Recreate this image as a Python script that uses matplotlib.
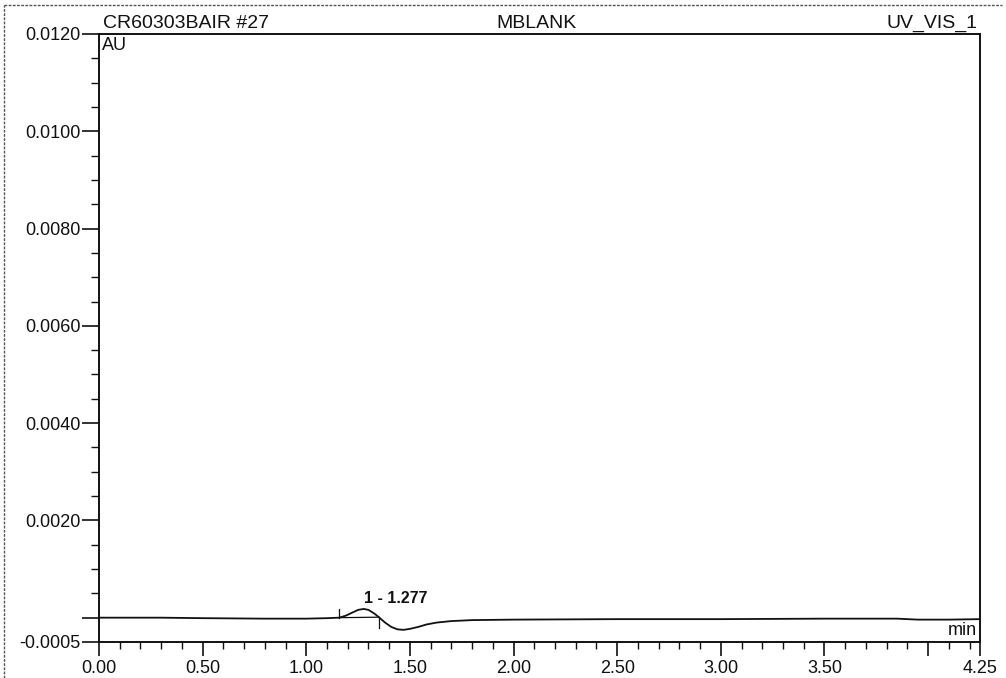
"""Chromatogram MBLANK / UV_VIS_1 -> out.png"""

import matplotlib
matplotlib.use("Agg")
import matplotlib.pyplot as plt
from matplotlib.lines import Line2D
import numpy as np

# retention time (min) and signal (AU)
time_min = [0.00, 0.30, 0.50, 0.80, 1.00, 1.10, 1.158, 1.19, 1.22, 1.25,
            1.277, 1.30, 1.33, 1.35, 1.38, 1.41, 1.44, 1.47, 1.50, 1.54,
            1.58, 1.63, 1.70, 1.80, 2.00, 2.50, 3.00, 3.50, 3.85, 3.95,
            4.10, 4.25]
signal_au = [0.00000, 0.00000, -0.00001, -0.00002, -0.00002, -0.00001, 0.00000,
             0.00004, 0.00010, 0.00016, 0.00018, 0.00016, 0.00008, 0.00001,
             -0.00010, -0.00019, -0.00024, -0.00025, -0.00023, -0.00019,
             -0.00014, -0.00010, -0.00007, -0.00005, -0.00004, -0.00003,
             -0.00003, -0.00002, -0.00002, -0.00004, -0.00004, -0.00003]

# integrated peak: start, apex, end (min)
peak_start, peak_apex, peak_end = 1.158, 1.277, 1.35
peak_label = "1 - 1.277"

y_major = [0.0120, 0.0100, 0.0080, 0.0060, 0.0040, 0.0020, 0.0000, -0.0005]
y_labels = ["0.0120", "0.0100", "0.0080", "0.0060", "0.0040", "0.0020", "", "-0.0005"]
x_major = [0.00, 0.50, 1.00, 1.50, 2.00, 2.50, 3.00, 3.50, 4.00, 4.25]
x_labels = ["0.00", "0.50", "1.00", "1.50", "2.00", "2.50", "3.00", "3.50", "", "4.25"]

INK = "#111111"

plt.rcParams["font.family"] = ["Liberation Sans", "DejaVu Sans"]

fig = plt.figure(figsize=(10.06, 6.78), dpi=100)
ax = fig.add_axes([0.0984, 0.0531, 0.8757, 0.8968])

ax.plot(time_min, signal_au, color=INK, lw=1.3)

# peak delimiters + integration baseline
t = np.array(time_min)
s = np.array(signal_au)
y0 = np.interp(peak_start, t, s)
y1 = np.interp(peak_end, t, s)
ax.plot([peak_start, peak_end], [y0, y1], color=INK, lw=0.9)
ax.plot([peak_start, peak_start], [y0, y0 + 0.00018], color=INK, lw=0.9)
ax.plot([peak_end, peak_end], [y1, y1 - 0.00022], color=INK, lw=0.9)
ax.text(peak_apex, np.interp(peak_apex, t, s) + 0.00006, peak_label,
        ha="left", va="bottom", fontsize=11.5, fontweight="bold", color=INK)

ax.set_xlim(0, 4.25)
ax.set_ylim(-0.0005, 0.0120)

ax.set_xticks(x_major)
ax.set_xticklabels(x_labels)
ax.set_xticks(np.arange(0, 4.25, 0.1), minor=True)
ax.set_yticks(y_major)
ax.set_yticklabels(y_labels)
ax.set_yticks(np.arange(-0.0005, 0.01201, 0.0005), minor=True)

ax.tick_params(axis="x", which="major", length=10, width=1.2, pad=3,
               labelsize=13, color=INK, labelcolor=INK)
ax.tick_params(axis="x", which="minor", length=5, width=1.0, color=INK)
ax.tick_params(axis="y", which="major", length=12, width=1.2, pad=1,
               labelsize=13, color=INK, labelcolor=INK)
ax.tick_params(axis="y", which="minor", length=6, width=1.0, color=INK)

for sp in ax.spines.values():
    sp.set_color(INK)
    sp.set_linewidth(1.4)

ax.text(0.003, 0.995, "AU", transform=ax.transAxes, ha="left", va="top",
        fontsize=13, color=INK)
ax.text(0.997, 0.005, "min", transform=ax.transAxes, ha="right", va="bottom",
        fontsize=13, color=INK)

# header
ax.text(0.004, 1.003, "CR60303BAIR #27", transform=ax.transAxes,
        ha="left", va="bottom", fontsize=14, color=INK)
ax.text(0.497, 1.003, "MBLANK", transform=ax.transAxes,
        ha="center", va="bottom", fontsize=14, color=INK)
ax.text(0.997, 1.003, "UV_VIS_1", transform=ax.transAxes,
        ha="right", va="bottom", fontsize=14, color=INK)

# page frame from the scan
fig.add_artist(Line2D([0.004, 0.004], [0.0, 0.9926], color="#555555",
                      lw=1.0, ls=(0, (2, 1))))
fig.add_artist(Line2D([0.004, 0.996], [0.9926, 0.9926], color="#555555",
                      lw=1.0, ls=(0, (2, 1))))

fig.savefig("out.png", dpi=100)
